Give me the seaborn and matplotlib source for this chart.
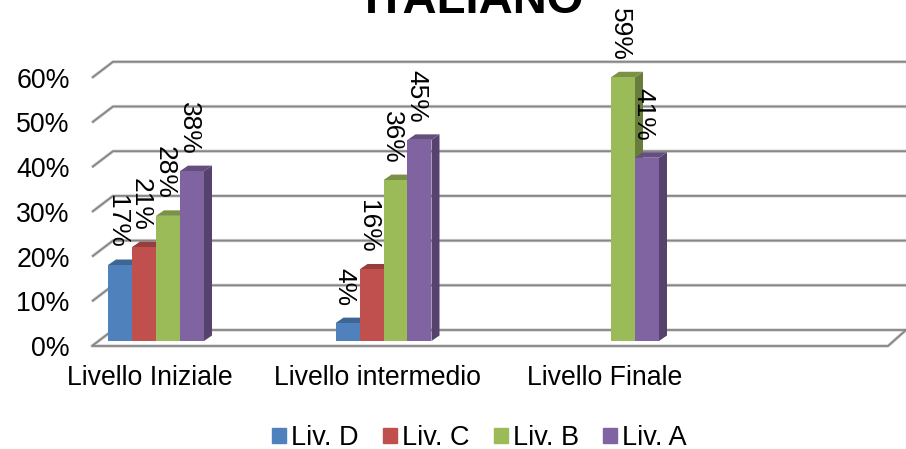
import numpy as np
import pandas as pd
import matplotlib.pyplot as plt
import seaborn as sns
from matplotlib.colors import to_rgb
from matplotlib.patches import Patch, Polygon

livelli = ["Livello Iniziale", "Livello intermedio", "Livello Finale"]
serie = ["Liv. D", "Liv. C", "Liv. B", "Liv. A"]
liv_d = [17, 4, np.nan]
liv_c = [21, 16, np.nan]
liv_b = [28, 36, 59]
liv_a = [38, 45, 41]
colori = ["#4F81BD", "#C0504D", "#9BBB59", "#8064A2"]
tacche = [0, 10, 20, 30, 40, 50, 60]

sns.set_theme(style="white")
plt.rcParams["font.family"] = ["Liberation Sans", "DejaVu Sans"]

df = pd.DataFrame({"livello": livelli, "Liv. D": liv_d, "Liv. C": liv_c, "Liv. B": liv_b, "Liv. A": liv_a})
df = df.melt(id_vars="livello", var_name="serie", value_name="valore").dropna()

W, H = 906, 449
px_x = 227.5  # pixel per categoria
px_y = 4.47   # pixel per punto percentuale
fig = plt.figure(figsize=(W / 100, H / 100), dpi=100)
ax = fig.add_axes([92 / W, (H - 346) / H, (888 - 92) / W, (346 - 62) / H])

sns.barplot(data=df, x="livello", y="valore", hue="serie", order=livelli, hue_order=serie,
            palette=colori, width=96 / px_x, saturation=1, linewidth=0, legend=False, ax=ax, zorder=2)

ax.set_xlim((92 - 156) / px_x, (888 - 156) / px_x)
ax.set_ylim(-5 / px_y, (341 - 62) / px_y)
sns.despine(ax=ax, left=True, bottom=True)
ax.set_xlabel("")
ax.set_ylabel("")

# pareti finte 3D: griglia dietro, diagonali a sinistra
fondo = -5 / px_y
dx, dy = 21 / px_x, 16 / px_y
for t in tacche:
    xs = [-64 / px_x, -64 / px_x + dx, (906 - 156) / px_x]
    ys = [t + fondo, t + fondo + dy, t + fondo + dy]
    ax.plot(xs, ys, color="#d4d4d4", lw=2.4, clip_on=False, zorder=0.8, solid_capstyle="butt")
    ax.plot(xs, ys, color="#868686", lw=1.3, clip_on=False, zorder=1, solid_capstyle="butt")
xs = [-64 / px_x, (888 - 156) / px_x, (906 - 156) / px_x]
ys = [fondo, fondo, fondo + dy]
ax.plot(xs, ys, color="#d4d4d4", lw=2.4, clip_on=False, zorder=0.8)
ax.plot(xs, ys, color="#868686", lw=1.3, clip_on=False, zorder=1)

ax.set_yticks([t + fondo for t in tacche], [f"{t}%" for t in tacche])
ax.set_xticks([i - 6 / px_x for i in range(len(livelli))], livelli)
ax.tick_params(axis="y", length=0, pad=16, labelsize=19.3, colors="black")
ax.tick_params(axis="x", length=0, pad=14, labelsize=19.2, colors="black")

# facce laterali e superiori delle barre + etichette
bx, by = 8 / px_x, 5.5 / px_y
for cont, col in zip(ax.containers, colori):
    rgb = np.array(to_rgb(col))
    for bar in cont:
        v = bar.get_height()
        if not v > 0:
            continue
        x0 = bar.get_x()
        x1 = x0 + bar.get_width()
        ax.add_patch(Polygon([(x1, 0), (x1 + bx, by), (x1 + bx, v + by), (x1, v)],
                             fc=rgb * 0.67, lw=0, zorder=1.5))
        ax.add_patch(Polygon([(x0, v), (x0 + bx, v + by), (x1 + bx, v + by), (x1, v)],
                             fc=rgb * 0.78, lw=0, zorder=1.6))
        ax.annotate(f"{v:.0f}%", (x0 + bar.get_width() / 2, v), xytext=(-2.5, 12),
                    textcoords="offset points", rotation=-90, ha="center", va="bottom",
                    fontsize=19, color="black", zorder=3, annotation_clip=False)

fig.text(475 / W, 1 - 13 / H, "ITALIANO", fontsize=34, fontweight="bold", ha="center", va="baseline", color="black")

maniglie = [Patch(color=c, label=s) for c, s in zip(colori, serie)]
fig.legend(handles=maniglie, loc="center", bbox_to_anchor=(479.5 / W, 1 - 438 / H), ncol=4, frameon=False,
           fontsize=19.5, handlelength=0.52, handleheight=0.52, handletextpad=0.18, columnspacing=0.9,
           borderpad=0, labelcolor="black")

fig.savefig("out.png", dpi=100)
